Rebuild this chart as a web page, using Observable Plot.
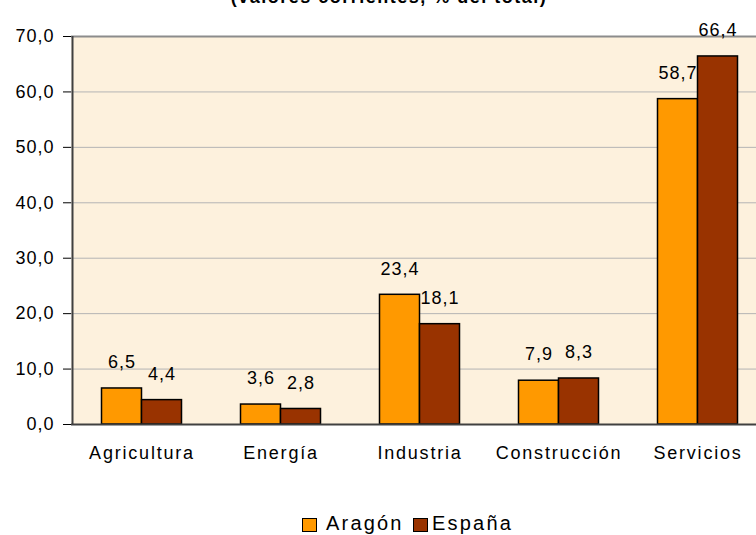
<!DOCTYPE html>
<html>
<head>
<meta charset="utf-8">
<script src="https://cdn.jsdelivr.net/npm/d3@7"></script>
<script src="https://cdn.jsdelivr.net/npm/@observablehq/plot@0.6"></script>
<style>
  html, body { margin: 0; padding: 0; background: #fff; overflow: hidden; }
  body { width: 756px; height: 535px; position: relative; font-family: "Liberation Sans", Arial, sans-serif; color: #000; }
  #title { position: absolute; top: -12px; left: 389px; transform: translateX(-50%); white-space: nowrap;
           font-size: 18px; line-height: 18px; font-weight: bold; letter-spacing: 1.5px; }
  #chart { position: absolute; top: 0; left: 0; }
  .leg { position: absolute; font-size: 20px; line-height: 20px; letter-spacing: 2.2px; white-space: nowrap; }
  .sw { position: absolute; width: 13px; height: 12px; border: 1px solid #000; }
</style>
</head>
<body>
<div id="title">(valores corrientes, % del total)</div>
<div id="chart"></div>
<div id="legend"></div>
<script>
const categories = ["Agricultura", "Energía", "Industria", "Construcción", "Servicios"];
const seriesNames = ["Aragón", "España"];
const aragon = [6.5, 3.6, 23.4, 7.9, 58.7];
const espana = [4.4, 2.8, 18.1, 8.3, 66.4];
const yTicks = [0, 10, 20, 30, 40, 50, 60, 70];
const colors = ["#FF9900", "#993300"];

const fmt = v => v.toFixed(1).replace(".", ",");
const dataA = categories.map((c, i) => ({cat: c, serie: seriesNames[0], v: aragon[i]}));
const dataE = categories.map((c, i) => ({cat: c, serie: seriesNames[1], v: espana[i]}));

const chart = Plot.plot({
  width: 756,
  height: 480,
  marginLeft: 71,
  marginRight: 0,
  marginTop: 36,
  marginBottom: 56,
  style: {fontFamily: "'Liberation Sans', Arial, sans-serif", fontSize: "18px", color: "#000", background: "transparent", overflow: "visible", letterSpacing: "1px"},
  x: {domain: categories, range: [71.5, 766.5], padding: 0, axis: null},
  y: {domain: [0, 70], ticks: yTicks, tickSize: 8, tickPadding: 9, tickFormat: fmt, label: null},
  marks: [
    Plot.frame({fill: "#fdf1dd", stroke: null}),
    Plot.ruleY(yTicks.filter(t => t > 0 && t < 70), {stroke: "#b4b4b4", strokeWidth: 1}),
    Plot.ruleY([70], {stroke: "#8c8c8c", strokeWidth: 2}),
    Plot.barY(dataA, {x: "cat", y: "v", fill: colors[0], stroke: "#000", strokeWidth: 1.5, insetLeft: 29.5, insetRight: 69.5}),
    Plot.barY(dataE, {x: "cat", y: "v", fill: colors[1], stroke: "#000", strokeWidth: 1.5, insetLeft: 69.5, insetRight: 29.5}),
    Plot.ruleY([0], {stroke: "#404040", strokeWidth: 2}),
    Plot.ruleX([categories[0]], {x: d => d, dx: -69.5, y1: 0, y2: 70, stroke: "#404040", strokeWidth: 2}),
    Plot.text(dataA, {x: "cat", y: "v", text: d => fmt(d.v), dx: -20, dy: -26, lineAnchor: "middle", fontSize: 18}),
    Plot.text(dataE, {x: "cat", y: "v", text: d => fmt(d.v), dx: 20, dy: -26, lineAnchor: "middle", fontSize: 18}),
    Plot.text(categories, {x: d => d, frameAnchor: "bottom", lineAnchor: "top", dy: 22, fontSize: 18, style: "letter-spacing:1.8px"})
  ]
});
document.getElementById("chart").appendChild(chart);
d3.select(chart).selectAll("g[aria-label='text']").filter((d, i, n) => i === n.length - 1).attr("letter-spacing", "1.8px");

// legend
const legend = document.getElementById("legend");
const legPos = [{sw: 302, tx: 326}, {sw: 413, tx: 432}];
seriesNames.forEach((name, i) => {
  const sw = document.createElement("div");
  sw.className = "sw";
  sw.style.left = legPos[i].sw + "px";
  sw.style.top = "518px";
  sw.style.background = colors[i];
  legend.appendChild(sw);
  const t = document.createElement("div");
  t.className = "leg";
  t.style.left = legPos[i].tx + "px";
  t.style.top = "513px";
  t.textContent = name;
  legend.appendChild(t);
});
</script>
</body>
</html>
